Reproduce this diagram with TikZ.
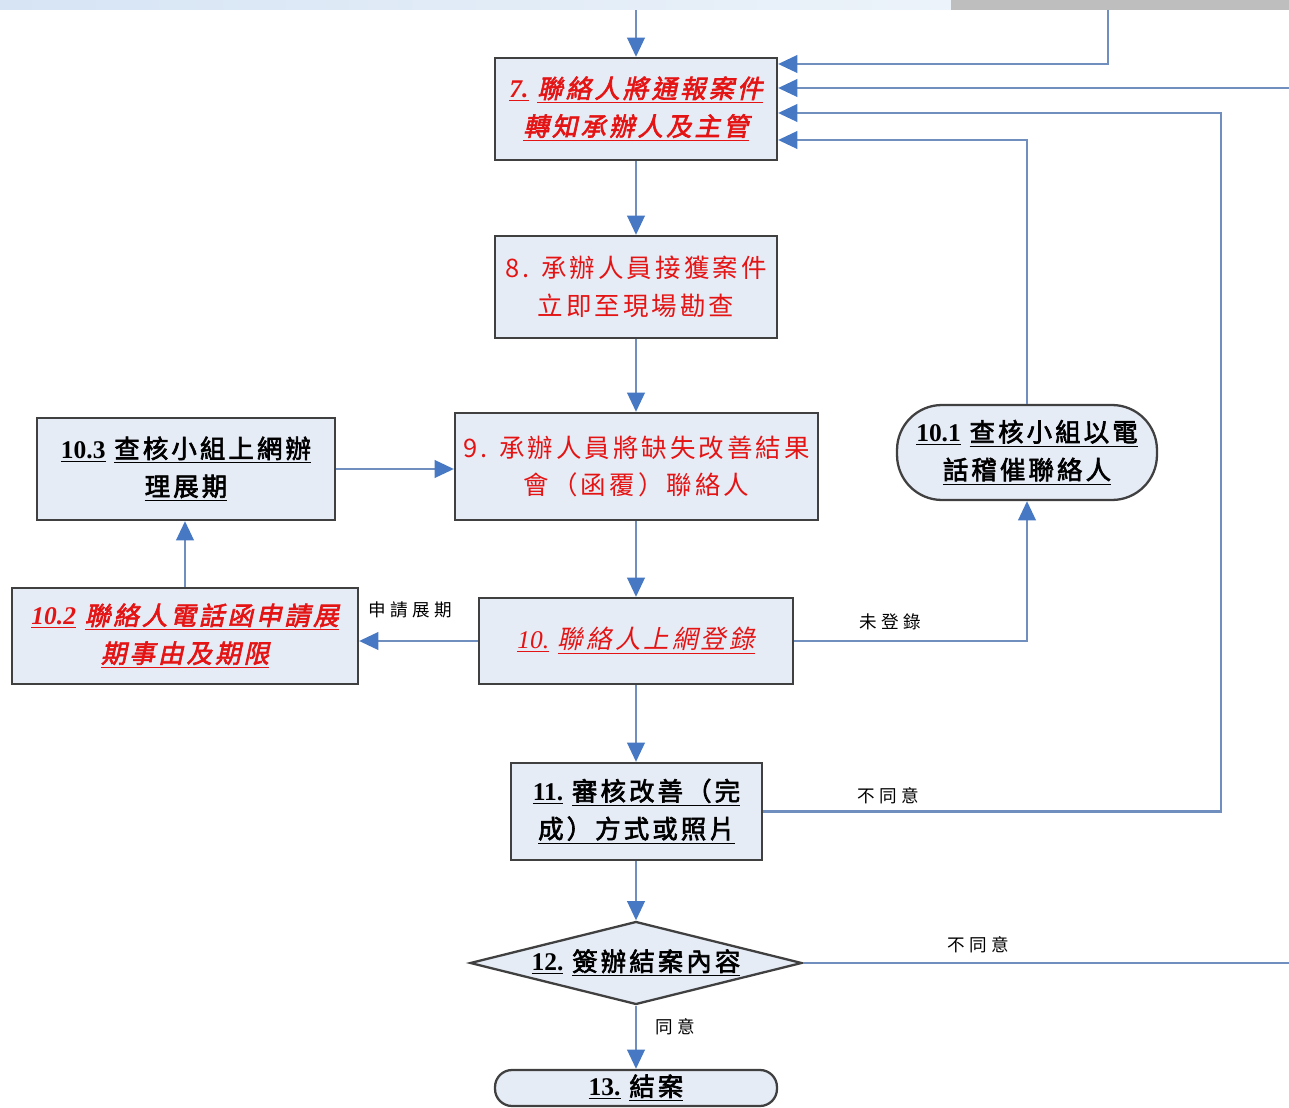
\documentclass[tikz,border=0pt]{standalone}
\usepackage{fontspec}
\setmainfont{Noto Sans CJK TC}[AutoFakeSlant=0.22,AutoFakeBold=2.5]
\newfontfamily\serifnum{Liberation Serif}
\usetikzlibrary{arrows.meta,shapes.geometric,calc}
\definecolor{boxfill}{RGB}{230,236,246}
\definecolor{boxline}{RGB}{64,64,64}
\definecolor{conn}{RGB}{112,142,190}
\definecolor{tipblue}{RGB}{70,120,196}
\definecolor{txtred}{RGB}{228,20,20}
\definecolor{bandL}{RGB}{214,228,244}
\definecolor{bandR}{RGB}{236,243,250}
\definecolor{bandG}{RGB}{190,190,190}
\newcommand{\bigtxt}{\fontsize{14.5}{21.5}\selectfont\addfontfeature{LetterSpace=12}}
\newcommand{\smalltxt}{\fontsize{10}{12}\selectfont\addfontfeature{LetterSpace=25}}
\tikzset{
  box/.style={draw=boxline, line width=1.3pt, fill=boxfill, align=center, inner sep=0pt, font=\bigtxt},
  redbi/.style={text=txtred, font=\bigtxt\bfseries\itshape},
  redn/.style={text=txtred, font=\bigtxt},
  redi/.style={text=txtred, font=\bigtxt\itshape},
  blkb/.style={text=black, font=\bigtxt\bfseries},
  conn/.style={draw=conn, line width=1.4pt, -{Triangle[length=11pt,width=10pt,color=tipblue]}},
  lbl/.style={font=\smalltxt, text=black, inner sep=0pt}
}
\begin{document}
\begin{tikzpicture}[x=0.02cm,y=-0.02cm]
\useasboundingbox (0,0) rectangle (1289,1108);
\clip (0,0) rectangle (1289,1108);
% top band
\fill[left color=bandL, right color=bandR] (0,0) rectangle (951,10);
\fill[bandG] (951,0) rectangle (1289,10);

% nodes
\node[box, redbi, minimum width=5.64cm, minimum height=2.04cm] (n7) at (636,109)
  {\underline{\serifnum 7.}~\underline{聯絡人將通報案件}\\\underline{轉知承辦人及主管}};
\node[box, redn, minimum width=5.64cm, minimum height=2.04cm] (n8) at (636,287)
  {8. 承辦人員接獲案件\\立即至現場勘查};
\node[box, redn, minimum width=7.26cm, minimum height=2.14cm] (n9) at (636.5,466.5)
  {9. 承辦人員將缺失改善結果\\會（函覆）聯絡人};
\node[box, blkb, minimum width=5.96cm, minimum height=2.04cm] (n103) at (186,469)
  {\underline{\serifnum 10.3}~\underline{查核小組上網辦}\\\underline{理展期}};
\node[box, blkb, rounded corners=0.9cm, minimum width=5.2cm, minimum height=1.9cm] (n101) at (1027,452.5)
  {\underline{\serifnum 10.1}~\underline{查核小組以電}\\\underline{話稽催聯絡人}};
\node[box, redi, minimum width=6.28cm, minimum height=1.72cm] (n10) at (636,641)
  {\underline{\serifnum 10.}~\underline{聯絡人上網登錄}};
\node[box, redbi, minimum width=6.92cm, minimum height=1.92cm] (n102) at (185,636)
  {\underline{\serifnum 10.2}~\underline{聯絡人電話函申請展}\\\underline{期事由及期限}};
\node[box, blkb, minimum width=5.02cm, minimum height=1.94cm] (n11) at (636.5,811.5)
  {\underline{\serifnum 11.}~\underline{審核改善（完}\\\underline{成）方式或照片}};
\node[box, blkb, diamond, aspect=4, minimum width=6.64cm, minimum height=1.66cm] (n12) at (636,963)
  {\underline{\serifnum 12.}~\underline{簽辦結案內容}};
\node[box, blkb, rounded corners=0.34cm, minimum width=5.64cm, minimum height=0.72cm] (n13) at (636,1088)
  {\underline{\serifnum 13.}~\underline{結案}};

% labels
\node[lbl] (l1) at (410,610) {申請展期};
\node[lbl] (l2) at (890,622) {未登錄};
\node[lbl] (l3) at (888,796) {不同意};
\node[lbl] (l4) at (978,945) {不同意};
\node[lbl] (l5) at (675,1027) {同意};

% free ends
\coordinate (topin) at (636,10);
\coordinate (topright) at (1108,10);
\coordinate (farright) at (1300,963);

% main flow
\draw[conn] (topin) -- (n7.north);
\draw[conn] (n7.south) -- (n8.north);
\draw[conn] (n8.south) -- (n8.south |- n9.north);
\draw[conn] (n9.south -| n10.north) -- (n10.north);
\draw[conn] (n10.south) -- (n10.south |- n11.north);
\draw[conn] (n11.south -| n12.north) -- (n12.north);
\draw[conn] (n12.south) -- (n13.north);

% side flows
\draw[conn] (n10.west) -- (n10.west -| n102.east);
\draw[conn] (n102.north) -- (n102.north |- n103.south);
\draw[conn] (n103.east) -- (n103.east -| n9.west);
\draw[conn] (n10.east) -| (n101.south);

% feedback into node 7
\draw[conn] (topright) |- ($(n7.east)+(0,-45)$);
\draw[conn] (n12.east) -- (farright) |- ($(n7.east)+(0,-21)$);
\draw[conn] (n11.east) -- ++(458,0) |- ($(n7.east)+(0,4)$);
\draw[conn] (n101.north) |- ($(n7.east)+(0,31)$);
\end{tikzpicture}
\end{document}
